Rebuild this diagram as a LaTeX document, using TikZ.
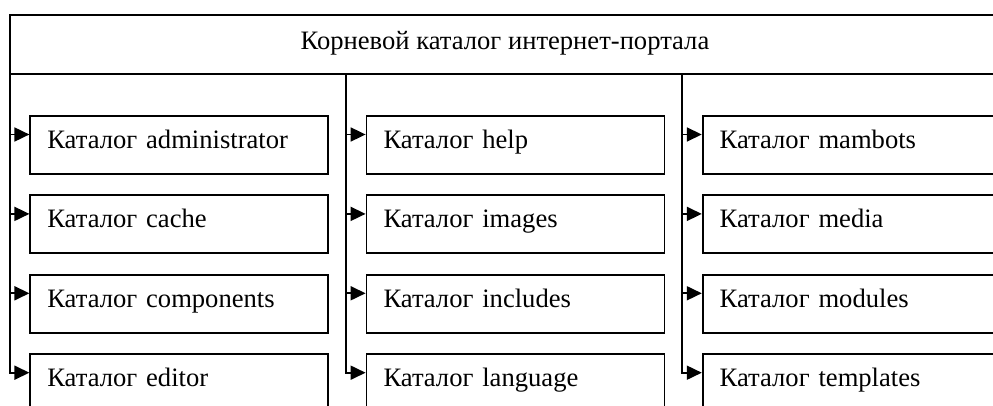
\documentclass[tikz,border=0pt]{standalone}
\usepackage{fontspec}
\setmainfont{Liberation Serif}
\usetikzlibrary{positioning,arrows.meta}

\begin{document}
\begin{tikzpicture}[font=\fontsize{13.3pt}{15.5pt}\selectfont, line width=0.9pt,
   node distance=9.8pt and 18.2pt,
   root/.style={draw, minimum width=495pt, inner sep=0pt, text height=17.5pt, text depth=12pt},
   dir/.style={draw, text width=132pt, align=left, inner xsep=8.5pt, inner ysep=2pt,
     text height=14.2pt, text depth=10.8pt},
   arr/.style={-{Triangle[length=7.5pt,width=7pt]}}]
  \useasboundingbox (0,0) rectangle (496.5pt,-203pt);
  % root directory across the top
  \node[root] (root) at (252.5pt,-22.25pt) {Корневой каталог интернет-портала};

  % first column
  \node[dir, anchor=north west] (b11) at (14.7pt,-57.5pt) {Каталог administrator};
  \node[dir, below=of b11] (b12) {Каталог cache};
  \node[dir, below=of b12] (b13) {Каталог components};
  \node[dir, below=of b13] (b14) {Каталог editor};
  % second column
  \node[dir, right=of b11] (b21) {Каталог help};
  \node[dir, below=of b21] (b22) {Каталог images};
  \node[dir, below=of b22] (b23) {Каталог includes};
  \node[dir, below=of b23] (b24) {Каталог language};
  % third column
  \node[dir, right=of b21] (b31) {Каталог mambots};
  \node[dir, below=of b31] (b32) {Каталог media};
  \node[dir, below=of b32] (b33) {Каталог modules};
  \node[dir, below=of b33] (b34) {Каталог templates};

  % entry points, a bit above the middle of each box
  \foreach \b in {11,12,13,14,21,22,23,24,31,32,33,34}
    \coordinate (p\b) at ([yshift=-9.75pt]b\b.north west);
  % one spine per column, down from the root
  \foreach \c in {1,2,3} {
    \coordinate (s\c) at ([xshift=-9.9pt]b\c1.north west);
    \draw[arr] (root.south -| s\c) |- (p\c4);
    \foreach \r in {1,2,3}
      \draw[arr] (s\c |- p\c\r) -- (p\c\r);
  }
\end{tikzpicture}
\end{document}
